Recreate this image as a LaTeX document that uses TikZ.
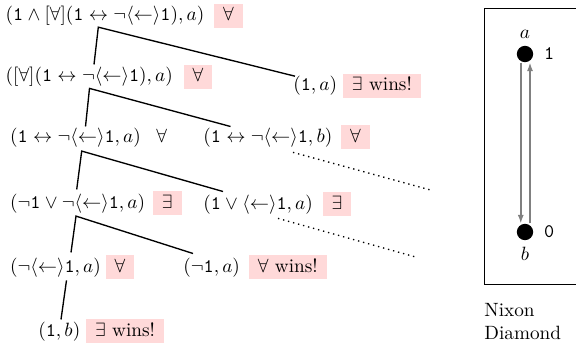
\documentclass[tikz,border=0pt]{standalone}
\usepackage{amsmath}
\usepackage{tikz}
\usetikzlibrary{arrows.meta,positioning}
\newcommand{\one}{\mathtt{1}}

\begin{document}
\begin{tikzpicture}[
  x=0.52pt, y=-0.52pt,
  fml/.style={inner sep=0pt, anchor=base west},
  tag/.style={fill=red!15, inner xsep=4.7pt, inner ysep=2pt, text height=6.9pt, text depth=1.5pt, anchor=base west},
  plain/.style={tag, fill=none},
  edge/.style={line width=0.7pt},
  dots/.style={line width=0.7pt, dotted},
  dot/.style={circle, fill, inner sep=0pt, minimum size=8.5pt},
  arr/.style={-{Latex[length=4.5pt,width=3.2pt]}, gray, line width=0.75pt}
]
\useasboundingbox (0,0) rectangle (576,350);
\clip (0,0) rectangle (576,350);

% game tree
\node[fml] (f1) at (5.3,21) {$(\one \land [\forall](\one \leftrightarrow \lnot\langle\leftarrow\rangle\one), a)$};
\node[tag] (t1) at ([xshift=4.7pt]f1.base east) {$\forall$};
\node[fml] (f2) at (5.3,82) {$([\forall](\one \leftrightarrow \lnot\langle\leftarrow\rangle\one), a)$};
\node[tag] (t2) at ([xshift=5.2pt]f2.base east) {$\forall$};
\node[fml] (f3) at (293,91) {$(\one, a)$};
\node[tag] (t3) at ([xshift=2.6pt]f3.base east) {$\exists$ wins!};
\node[fml] (f4) at (9.7,142) {$(\one \leftrightarrow \lnot\langle\leftarrow\rangle\one, a)$};
\node[plain] (t4) at ([xshift=3pt]f4.base east) {$\forall$};
\node[fml] (f5) at (203,142) {$(\one \leftrightarrow \lnot\langle\leftarrow\rangle\one, b)$};
\node[tag] (t5) at ([xshift=4.2pt]f5.base east) {$\forall$};
\node[fml] (f6) at (9.7,208) {$(\lnot\one \lor \lnot\langle\leftarrow\rangle\one, a)$};
\node[tag] (t6) at ([xshift=3.6pt]f6.base east) {$\exists$};
\node[fml] (f7) at (203,209) {$(\one \lor \langle\leftarrow\rangle\one, a)$};
\node[tag] (t7) at ([xshift=4.7pt]f7.base east) {$\exists$};
\node[fml] (f8) at (9.7,272) {$(\lnot\langle\leftarrow\rangle\one, a)$};
\node[tag] (t8) at ([xshift=2.1pt]f8.base east) {$\forall$};
\node[fml] (f9) at (183,272) {$(\lnot\one, a)$};
\node[tag] (t9) at ([xshift=4.2pt]f9.base east) {$\forall$ wins!};
\node[fml] (f10) at (38,336) {$(\one, b)$};
\node[tag] (t10) at ([xshift=2.6pt]f10.base east) {$\exists$ wins!};

\draw[edge] ([shift={(88.7,-2.7)}]f2.north west) -- ([shift={(93,1)}]f1.south west) -- ([shift={(2,0)}]f3.north west);
\draw[edge] ([shift={(75.8,-0.7)}]f4.north west) -- ([shift={(84.2,1.2)}]f2.south west) -- ([shift={(27.5,-0.7)}]f5.north west);
\draw[edge] ([shift={(67,-3.7)}]f6.north west) -- ([shift={(72,3.9)}]f4.south west) -- ([shift={(20,-2.7)}]f7.north west);
\draw[edge] ([shift={(61.3,-4.7)}]f8.north west) -- ([shift={(66.3,2.9)}]f6.south west) -- ([shift={(10,-3.7)}]f9.north west);
\draw[edge] ([shift={(56.8,3.2)}]f8.south west) -- ([shift={(23,-1.7)}]f10.north west);
\draw[dots] ([shift={(90,5.2)}]f5.south west) -- ++(139,38);
\draw[dots] ([shift={(75,4.2)}]f7.south west) -- ++(139,39);

% model
\draw (484,8) rectangle (600,284);
\node[dot, label=above:$a$, label={[label distance=2pt]right:$\mathtt{1}$}] (a) at (525,54) {};
\node[dot, label=below:$b$, label={[label distance=2pt]right:$\mathtt{0}$}] (b) at (525,232) {};
\draw[arr] ([xshift=-2.2pt]a.south) -- ([xshift=-2.2pt]b.north);
\draw[arr] ([xshift=2.6pt]b.north) -- ([xshift=2.6pt]a.south);
\node[anchor=north west, align=left, inner sep=0pt] (cap) at (484,303) {Nixon\\Diamond};
\end{tikzpicture}
\end{document}
